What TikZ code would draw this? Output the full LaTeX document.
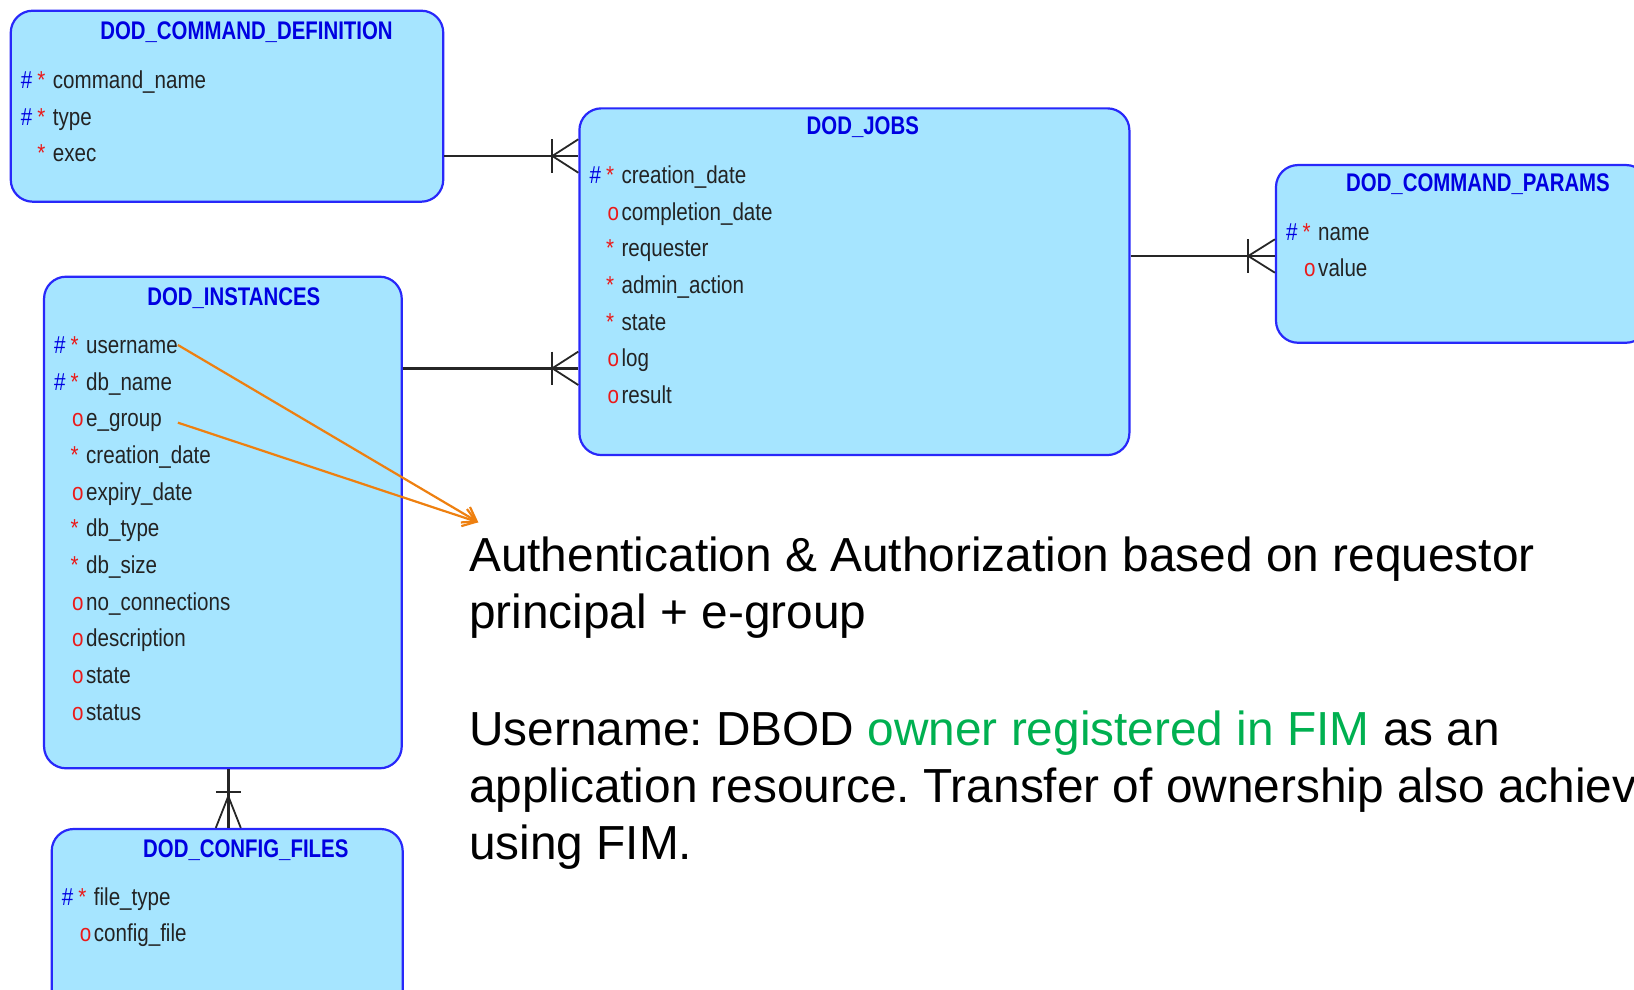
\documentclass[tikz,border=0pt]{standalone}
\usepackage{fontspec}
\setmainfont{Liberation Sans}
\newfontfamily\erfont[FakeStretch=0.84]{Liberation Sans}
\newfontfamily\erheadfont[FakeStretch=0.8]{Liberation Sans Bold}
\usetikzlibrary{arrows.meta,calc}
\frenchspacing

\definecolor{erfill}{RGB}{166,229,255}
\definecolor{erline}{RGB}{40,40,250}
\definecolor{erblue}{RGB}{0,0,225}
\definecolor{erred}{RGB}{235,25,25}
\definecolor{ertext}{RGB}{35,35,35}
\definecolor{arrorange}{RGB}{238,128,16}
\definecolor{fimgreen}{RGB}{0,176,80}

\newcommand{\attrpk}{\makebox[32pt][l]{\textcolor{erblue}{\#}\hspace{5pt}\textcolor{erred}{*}}}
\newcommand{\attrreq}{\makebox[32pt][l]{\hspace{16.5pt}\textcolor{erred}{*}}}
\newcommand{\attropt}{\makebox[32pt][l]{\hspace{18pt}\textcolor{erred}{o}}}

\begin{document}
\begin{tikzpicture}[x=1pt, y=-1pt,
	entity/.style={draw=erline, fill=erfill, line width=2.2pt, rounded corners=22pt, inner sep=0pt},
	head/.style={anchor=base, inner sep=0pt, text=erblue, font=\erheadfont\fontsize{25.5}{25.5}\selectfont},
	attr/.style={anchor=base west, inner sep=0pt, text=ertext, font=\erfont\fontsize{24.5}{24.5}\selectfont},
	rel/.style={draw=black!85, line width=2.4pt},
	crow/.style={draw=black!85, line width=1.8pt},
	link/.style={draw=arrorange, line width=2.2pt, -{Straight Barb[length=13pt,width=18pt]}},
	note/.style={anchor=north west, inner sep=0pt, align=left, font=\fontsize{47.8}{57}\selectfont}]

	\useasboundingbox (0,0) rectangle (1634,990);
	\clip (0,0) rectangle (1634,990);

	% entities
	\node[entity, minimum width=432.5, minimum height=191] (cmddef) at (227,106.2) {};
	\node[entity, minimum width=550, minimum height=346.7] (jobs) at (854.4,281.7) {};
	\node[entity, minimum width=372, minimum height=177.7] (params) at (1462,253.9) {};
	\node[entity, minimum width=357.7, minimum height=491.6] (inst) at (222.9,522.5) {};
	\node[entity, minimum width=351, minimum height=186] (config) at (227.2,922) {};

	% DOD_COMMAND_DEFINITION
	\node[head] (cmddef-h) at (246.5,40) {DOD\_COMMAND\_DEFINITION};
	\node[attr] (cmddef-name) at (20.7,88.3) {\attrpk command\_name};
	\node[attr] (cmddef-type) at (20.7,125) {\attrpk type};
	\node[attr] (cmddef-exec) at (20.7,161.7) {\attrreq exec};

	% DOD_JOBS
	\node[head] (jobs-h) at (862.8,135) {DOD\_JOBS};
	\node[attr] (jobs-cdate) at (589.4,183.3) {\attrpk creation\_date};
	\node[attr] (jobs-comp) at (589.4,220) {\attropt completion\_date};
	\node[attr] (jobs-req) at (589.4,256.7) {\attrreq requester};
	\node[attr] (jobs-admin) at (589.4,293.3) {\attrreq admin\_action};
	\node[attr] (jobs-state) at (589.4,330) {\attrreq state};
	\node[attr] (jobs-log) at (589.4,366.7) {\attropt log};
	\node[attr] (jobs-result) at (589.4,403.4) {\attropt result};

	% DOD_COMMAND_PARAMS
	\node[head] (params-h) at (1478,191.7) {DOD\_COMMAND\_PARAMS};
	\node[attr] (params-name) at (1286,240) {\attrpk name};
	\node[attr] (params-value) at (1286,276.7) {\attropt value};

	% DOD_INSTANCES
	\node[head] (inst-h) at (233.8,305) {DOD\_INSTANCES};
	\node[attr] (inst-user) at (54,353.3) {\attrpk username};
	\node[attr] (inst-db) at (54,390) {\attrpk db\_name};
	\node[attr] (inst-egroup) at (54,426.7) {\attropt e\_group};
	\node[attr] (inst-cdate) at (54,463.4) {\attrreq creation\_date};
	\node[attr] (inst-expiry) at (54,500.1) {\attropt expiry\_date};
	\node[attr] (inst-type) at (54,536.8) {\attrreq db\_type};
	\node[attr] (inst-size) at (54,573.5) {\attrreq db\_size};
	\node[attr] (inst-conn) at (54,610.2) {\attropt no\_connections};
	\node[attr] (inst-desc) at (54,646.9) {\attropt description};
	\node[attr] (inst-state) at (54,683.6) {\attropt state};
	\node[attr] (inst-status) at (54,720.3) {\attropt status};

	% DOD_CONFIG_FILES
	\node[head] (config-h) at (245.8,857.3) {DOD\_CONFIG\_FILES};
	\node[attr] (config-type) at (61.7,905) {\attrpk file\_type};
	\node[attr] (config-file) at (61.7,941.7) {\attropt config\_file};

	% relations
	\draw[rel] (cmddef.east |- 0,156) -- (jobs.west |- 0,156) coordinate (foot1);
	\draw[crow] ($(foot1)+(-26,-16.7)$) -- ++(0,33.4);
	\draw[crow] ($(foot1)+(0,-16.7)$) -- ++(-26,16.7) -- ++(26,16.7);

	\draw[rel] (inst.east |- 0,368.3) -- (jobs.west |- 0,368.3) coordinate (foot2);
	\draw[crow] ($(foot2)+(-26,-16.7)$) -- ++(0,33.4);
	\draw[crow] ($(foot2)+(0,-16.7)$) -- ++(-26,16.7) -- ++(26,16.7);

	\draw[rel] (jobs.east |- 0,256) -- (params.west |- 0,256) coordinate (foot3);
	\draw[crow] ($(foot3)+(-26.7,-16.7)$) -- ++(0,33.4);
	\draw[crow] ($(foot3)+(0,-16.7)$) -- ++(-26.7,16.7) -- ++(26.7,16.7);

	\draw[rel] (inst.south -| 228.3,0) -- (config.north -| 228.3,0) coordinate (foot4);
	\draw[crow] ($(foot4)+(-12.5,-36.3)$) -- ++(25,0);
	\draw[crow] ($(foot4)+(-12.5,0)$) -- ++(12.5,-31.7) -- ++(12.5,31.7);

	% notes
	\node[note] (auth) at (469,536.9) {Authentication \& Authorization based on requestor\\principal + e-group};
	\node[note] (owner) at (469,710.2) {Username: DBOD \textcolor{fimgreen}{owner registered in FIM} as an\\application resource. Transfer of ownership also achieved\\using FIM.};

	\coordinate (authtip) at (478.3,522.3);
	\draw[link] (inst-user.east) -- (authtip);
	\draw[link] (inst-user.east |- inst-egroup.east) -- (authtip);
\end{tikzpicture}
\end{document}
